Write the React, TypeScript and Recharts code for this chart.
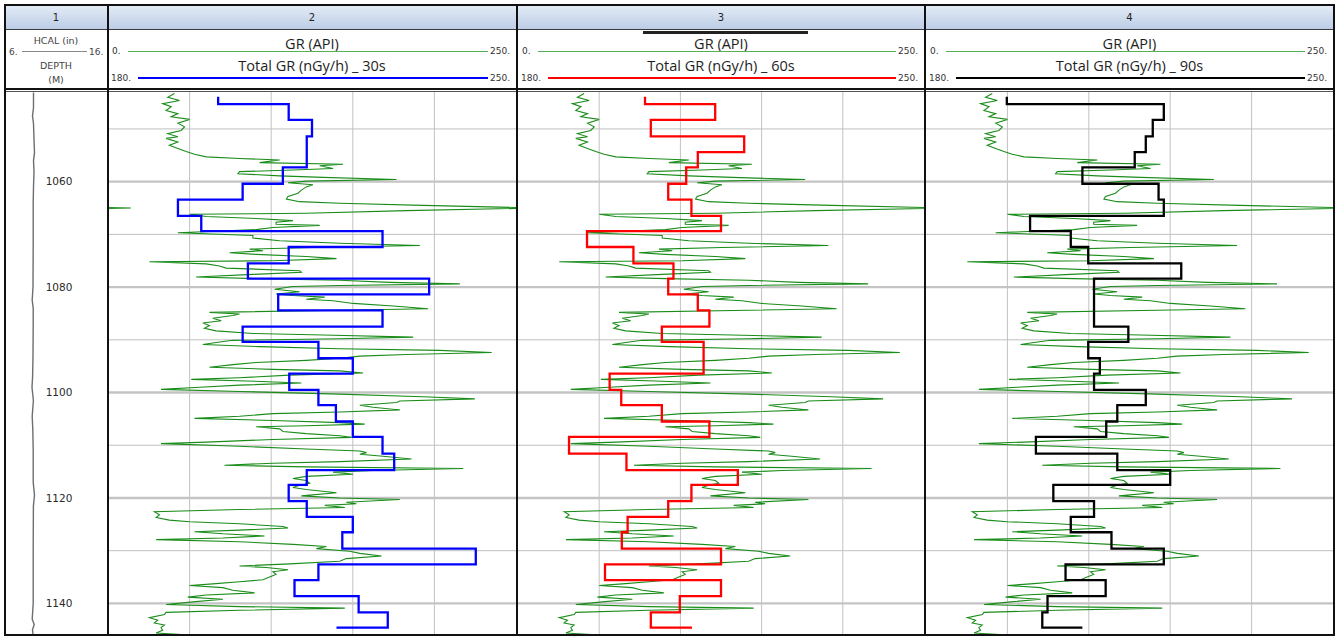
import React from 'react';
import { ScatterChart, Scatter, XAxis, YAxis, ReferenceLine } from 'recharts';

// depth window shown in the plot (m)
const depthTop = 1043.0;
const depthBottom = 1145.8;
const depthLines = [1050, 1060, 1070, 1080, 1090, 1100, 1110, 1120, 1130, 1140];
const depthLabels = [1060, 1080, 1100, 1120, 1140];
const grGrid = [50, 100, 150, 200];

// GR (API) curve, same in tracks 2-4
const grDepth = [
  1043.3, 1044.0, 1044.6, 1045.2, 1045.8, 1046.5, 1047.1, 1047.7, 1048.2, 1048.9,
  1049.6, 1050.3, 1050.9, 1051.5, 1051.8, 1052.5, 1053.1, 1053.7, 1054.3, 1054.8,
  1055.3, 1055.6, 1055.9, 1056.4, 1056.7, 1057.0, 1057.5, 1057.8, 1058.1, 1058.5,
  1058.9, 1059.2, 1059.6, 1059.9, 1060.2, 1060.6, 1061.0, 1061.6, 1062.2, 1062.8,
  1063.3, 1063.8, 1064.1, 1064.5, 1065.0, 1065.5, 1066.0, 1066.2, 1066.6, 1067.0,
  1067.4, 1067.7, 1068.1, 1068.3, 1068.7, 1069.1, 1069.7, 1070.2, 1070.7, 1071.2,
  1071.7, 1072.1, 1072.5, 1072.8, 1073.1, 1073.5, 1073.8, 1074.2, 1074.6, 1075.0,
  1075.2, 1075.6, 1076.0, 1076.4, 1076.9, 1077.2, 1077.6, 1078.1, 1078.4, 1078.7,
  1079.1, 1079.4, 1079.7, 1079.9, 1080.4, 1080.9, 1081.3, 1081.6, 1081.9, 1082.3,
  1082.6, 1083.1, 1083.6, 1084.1, 1084.4, 1084.8, 1085.1, 1085.4, 1085.9, 1086.4,
  1086.8, 1087.3, 1087.8, 1088.3, 1088.8, 1089.1, 1089.5, 1089.8, 1090.1, 1090.5,
  1090.9, 1091.3, 1091.7, 1092.0, 1092.4, 1092.8, 1093.1, 1093.5, 1093.9, 1094.3,
  1094.7, 1095.2, 1095.6, 1095.9, 1096.3, 1096.7, 1097.2, 1097.5, 1097.8, 1098.2,
  1098.6, 1099.0, 1099.4, 1099.8, 1100.3, 1100.8, 1101.2, 1101.6, 1101.9, 1102.4,
  1102.8, 1103.3, 1103.7, 1104.0, 1104.5, 1104.9, 1105.3, 1105.7, 1106.0, 1106.3,
  1106.5, 1106.9, 1107.4, 1107.8, 1108.2, 1108.5, 1108.9, 1109.4, 1109.7, 1110.2,
  1110.7, 1111.1, 1111.4, 1111.7, 1112.1, 1112.6, 1113.1, 1113.4, 1113.8, 1114.1,
  1114.4, 1114.8, 1115.1, 1115.5, 1115.9, 1116.3, 1116.7, 1117.2, 1117.6, 1118.0,
  1118.4, 1119.0, 1119.6, 1120.0, 1120.3, 1120.8, 1121.1, 1121.4, 1121.8, 1122.2,
  1122.6, 1123.2, 1123.7, 1124.2, 1124.5, 1124.9, 1125.4, 1125.7, 1126.1, 1126.4,
  1126.8, 1127.2, 1127.6, 1127.9, 1128.3, 1128.8, 1129.2, 1129.6, 1130.1, 1130.5,
  1131.0, 1131.5, 1132.0, 1132.5, 1132.9, 1133.2, 1133.6, 1134.0, 1134.5, 1135.0,
  1135.5, 1135.9, 1136.3, 1136.6, 1137.0, 1137.5, 1138.0, 1138.4, 1138.8, 1139.2,
  1139.7, 1140.2, 1140.6, 1140.9, 1141.3, 1141.7, 1142.1, 1142.7, 1143.2, 1143.7,
  1144.1, 1144.6, 1145.1, 1145.6, 1146.0,
];
const grApi = [
  40.7, 36.6, 43.8, 33.5, 38.7, 35.6, 42.8, 38.7, 50.0, 42.8,
  46.9, 44.8, 36.6, 42.8, 35.6, 42.8, 37.6, 42.8, 47.9, 53.0,
  60.2, 80.6, 105.2, 92.9, 144.0, 129.7, 137.9, 113.3, 80.6, 79.6,
  105.2, 131.8, 176.8, 121.5, 110.3, 125.6, 121.5, 118.5, 116.4, 110.3,
  109.3, 117.4, 142.0, 193.0, 264.0, 183.0, 121.5, 50.0, 60.2, 90.8,
  113.3, 103.0, 103.0, 129.7, 101.0, 90.8, 42.8, 88.8, 88.8, 105.2,
  142.0, 191.1, 125.6, 86.8, 95.0, 74.5, 90.8, 121.5, 140.0, 101.0,
  25.4, 60.2, 68.3, 72.4, 117.4, 118.5, 88.8, 54.0, 90.8, 142.0,
  172.7, 215.6, 142.0, 113.3, 102.1, 117.4, 103.0, 113.3, 132.8, 121.5,
  137.9, 150.2, 174.7, 196.2, 142.0, 62.2, 80.6, 76.5, 64.2, 69.4,
  58.1, 62.2, 59.1, 66.3, 88.8, 131.8, 187.0, 142.0, 76.5, 66.3,
  58.1, 92.9, 142.0, 203.3, 235.1, 183.0, 154.3, 142.0, 121.5, 90.8,
  76.5, 62.2, 101.0, 142.0, 156.3, 111.3, 80.6, 51.0, 84.7, 118.5,
  80.6, 56.1, 32.5, 80.6, 142.0, 193.0, 224.8, 178.8, 176.8, 154.3,
  162.5, 178.8, 142.0, 101.0, 80.6, 53.0, 101.0, 142.0, 157.3, 121.5,
  90.8, 105.2, 107.2, 121.5, 142.0, 149.2, 101.0, 60.2, 32.5, 80.6,
  121.5, 154.3, 158.4, 154.3, 168.6, 186.0, 142.0, 101.0, 71.4, 121.5,
  217.7, 162.5, 137.9, 150.2, 121.5, 113.3, 121.5, 123.6, 117.4, 113.3,
  121.5, 140.0, 118.5, 142.0, 178.8, 146.0, 152.2, 132.8, 145.1, 80.6,
  28.4, 31.5, 29.5, 37.6, 50.0, 80.6, 107.2, 110.3, 80.6, 53.0,
  70.4, 95.9, 70.4, 29.5, 80.6, 113.3, 133.8, 127.7, 148.1, 154.3,
  167.6, 146.0, 142.0, 111.3, 80.6, 97.0, 110.3, 101.0, 103.0, 99.0,
  95.0, 80.6, 64.2, 50.0, 70.4, 76.5, 89.8, 60.2, 48.9, 70.4,
  52.0, 35.6, 80.6, 145.1, 80.6, 35.6, 34.6, 25.4, 30.5, 28.4,
  34.6, 32.5, 33.5, 29.5, 50.0,
];

// HCAL (in), track 1
const hcalDepth = [
  1043.1, 1046.0, 1047.5, 1049.0, 1052.0, 1054.5, 1056.0, 1058.0, 1061.0, 1064.0,
  1072.0, 1080.0, 1082.5, 1084.0, 1087.0, 1093.0, 1097.0, 1099.0, 1101.5, 1104.5,
  1107.0, 1111.0, 1117.0, 1119.5, 1121.5, 1130.0, 1140.0, 1143.0, 1144.0, 1145.0,
  1145.8,
];
const hcalIn = [
  8.65, 8.65, 8.55, 8.65, 8.7, 8.75, 8.65, 8.7, 8.65, 8.62,
  8.62, 8.6, 8.52, 8.62, 8.62, 8.6, 8.56, 8.5, 8.64, 8.52,
  8.58, 8.62, 8.62, 8.75, 8.64, 8.62, 8.62, 8.52, 8.72, 8.55,
  8.6,
];

// Total GR step tops (m) and readings (nGy/h)
const stepDepth = [
  1043.9, 1045.3, 1048.3, 1051.4, 1054.4, 1057.3, 1060.4, 1063.4, 1066.5, 1069.4,
  1072.4, 1075.5, 1078.4, 1081.4, 1084.4, 1087.5, 1090.4, 1093.5, 1096.4, 1099.5,
  1102.4, 1105.5, 1108.4, 1111.6, 1114.7, 1117.5, 1120.6, 1123.6, 1126.5, 1129.6,
  1132.6, 1135.6, 1138.6, 1141.7, 1144.6,
];
const totalGr30 = [
  198.9, 211.0, 215.0, 214.1, 214.1, 210.0, 203.1, 192.0, 196.0, 227.1,
  211.0, 204.0, 235.1, 209.2, 227.1, 203.1, 216.1, 222.0, 211.1, 216.1,
  219.1, 222.0, 227.1, 229.1, 214.1, 211.0, 214.1, 222.0, 220.2, 243.1,
  216.1, 212.0, 223.0, 228.0, 219.2,
];
const totalGr60 = [
  201.9, 214.0, 202.9, 219.0, 211.0, 209.0, 205.9, 209.9, 215.0, 191.9,
  199.9, 206.8, 205.9, 211.0, 213.0, 204.8, 212.0, 212.0, 195.8, 197.8,
  204.8, 213.0, 188.8, 198.7, 217.9, 209.9, 205.9, 198.9, 197.9, 215.0,
  195.0, 215.0, 207.9, 202.9, 210.0,
];
const totalGr90 = [
  193.9, 220.9, 219.0, 217.8, 215.9, 206.9, 220.0, 220.9, 197.9, 204.9,
  207.9, 223.9, 208.9, 208.9, 208.9, 214.8, 207.9, 209.9, 208.9, 217.8,
  212.9, 211.0, 198.9, 212.9, 222.0, 201.9, 208.9, 204.9, 211.9, 220.9,
  204.0, 210.9, 200.9, 200.0, 206.9,
];

const PLOT_TOP = 92;
const PLOT_H = 542;
const GREEN = '#1a8c1a';
const SMALL = { fontFamily: '"DejaVu Sans", sans-serif', fontSize: 9, color: '#333' };
const TITLE = { fontFamily: '"Open Sans", sans-serif', fontSize: 14.5, color: '#1e1e1e' };

const noDot = () => <g />;

function zip(depths: number[], values: number[]) {
  return depths.map((d, i) => ({ x: values[i], y: d }));
}

// squared-off curve: each reading holds down to the next step top
function stepPoints(depths: number[], values: number[]) {
  const pts: { x: number; y: number }[] = [];
  values.forEach((v, i) => {
    pts.push({ x: v, y: depths[i] });
    if (i + 1 < values.length) pts.push({ x: v, y: depths[i + 1] });
  });
  return pts;
}

// part of the curve above scale max, wrapped back from the left edge
function wrapPoints(depths: number[], values: number[], max: number) {
  const pts: { x: number; y: number }[] = [];
  for (let i = 0; i < values.length; i++) {
    if (values[i] > max) pts.push({ x: values[i] - max, y: depths[i] });
    const next = values[i + 1];
    if (next !== undefined && (values[i] > max) !== (next > max)) {
      const t = (max - values[i]) / (next - values[i]);
      pts.push({ x: 0, y: depths[i] + (depths[i + 1] - depths[i]) * t });
    }
  }
  return pts;
}

const grData = zip(grDepth, grApi);
const hcalData = zip(hcalDepth, hcalIn);

const tracks = [
  { num: '2', left: 108, width: 408, color: '#0000ff', values: totalGr30, title: 'Total GR (nGy/h) _ 30s', wrap: true },
  { num: '3', left: 518, width: 406, color: '#ff0000', values: totalGr60, title: 'Total GR (nGy/h) _ 60s', wrap: false },
  { num: '4', left: 926, width: 407, color: '#000000', values: totalGr90, title: 'Total GR (nGy/h) _ 90s', wrap: false },
];

const abs = (style: React.CSSProperties): React.CSSProperties => ({ position: 'absolute', ...style });
const centered = (x: number, y: number): React.CSSProperties =>
  abs({ left: x, top: y, transform: 'translate(-50%, -50%)', whiteSpace: 'nowrap', lineHeight: 1 });

function GrTrack({ left, width, color, values, wrap }: any) {
  const steps = stepPoints(stepDepth, values);
  const wrapped = wrapPoints(grDepth, grApi, 250);
  return (
    <div style={abs({ left, top: PLOT_TOP, width, height: PLOT_H })}>
      <ScatterChart width={width} height={PLOT_H} margin={{ top: 0, right: 0, bottom: 0, left: 0 }}>
        <XAxis xAxisId="gr" type="number" dataKey="x" domain={[0, 250]} allowDataOverflow hide />
        <XAxis xAxisId="tgr" type="number" dataKey="x" domain={[180, 250]} allowDataOverflow hide />
        <YAxis type="number" dataKey="y" domain={[depthTop, depthBottom]} reversed allowDataOverflow hide />
        {grGrid.map((v) => (
          <ReferenceLine key={'x' + v} xAxisId="gr" x={v} stroke="#c2c2c2" strokeWidth={1} />
        ))}
        {depthLines.map((d) => (
          <ReferenceLine
            key={'y' + d}
            xAxisId="gr"
            y={d}
            stroke={d % 20 === 0 ? '#c4c4c4' : '#c0c0c0'}
            strokeWidth={d % 20 === 0 ? 2.4 : 1}
          />
        ))}
        <Scatter
          xAxisId="gr"
          data={grData}
          fill={GREEN}
          line={{ stroke: GREEN, strokeWidth: 1.1 }}
          shape={noDot}
          isAnimationActive={false}
        />
        {wrap && (
          <Scatter
            xAxisId="gr"
            data={wrapped}
            fill={GREEN}
            line={{ stroke: GREEN, strokeWidth: 1.1 }}
            shape={noDot}
            isAnimationActive={false}
          />
        )}
        <Scatter
          xAxisId="tgr"
          data={steps}
          fill={color}
          line={{ stroke: color, strokeWidth: 2.3 }}
          shape={noDot}
          isAnimationActive={false}
        />
      </ScatterChart>
    </div>
  );
}

function DepthTrack() {
  return (
    <div style={abs({ left: 7, top: PLOT_TOP, width: 100, height: PLOT_H })}>
      <ScatterChart width={100} height={PLOT_H} margin={{ top: 0, right: 0, bottom: 0, left: 0 }}>
        <XAxis xAxisId="hcal" type="number" dataKey="x" domain={[6, 16]} allowDataOverflow hide />
        <YAxis type="number" dataKey="y" domain={[depthTop, depthBottom]} reversed allowDataOverflow hide />
        {depthLabels.map((d) => (
          <ReferenceLine
            key={d}
            xAxisId="hcal"
            y={d}
            stroke="none"
            label={{ value: String(d), position: 'center', dx: 2, fill: '#2a2a2a', fontSize: 10.5, fontFamily: 'DejaVu Sans' }}
          />
        ))}
        <Scatter
          xAxisId="hcal"
          data={hcalData}
          fill="#6e6e6e"
          line={{ stroke: '#6e6e6e', strokeWidth: 1.4 }}
          shape={noDot}
          isAnimationActive={false}
        />
      </ScatterChart>
    </div>
  );
}

function TrackHeader({ left, width, color, title }: any) {
  const cx = left + width / 2;
  return (
    <>
      <span style={centered(cx, 43.5)}><span style={TITLE}>GR (API)</span></span>
      <span style={{ ...SMALL, ...abs({ left: left + 4, top: 46, lineHeight: '10px' }) }}>0.</span>
      <div style={abs({ left: left + 20, top: 50.5, width: width - 48, height: 1.5, background: '#55b055' })} />
      <span style={{ ...SMALL, ...abs({ left: left + width - 26, top: 46, lineHeight: '10px' }) }}>250.</span>

      <span style={centered(cx, 65.5)}><span style={TITLE}>{title}</span></span>
      <span style={{ ...SMALL, ...abs({ left: left + 3, top: 73, lineHeight: '10px' }) }}>180.</span>
      <div style={abs({ left: left + 30, top: 77, width: width - 58, height: 2, background: color })} />
      <span style={{ ...SMALL, ...abs({ left: left + width - 26, top: 73, lineHeight: '10px' }) }}>250.</span>
    </>
  );
}

export default function App() {
  const dividers = [4, 106.5, 516, 924, 1333];
  const cells = [
    { num: '1', cx: 56 },
    ...tracks.map((t) => ({ num: t.num, cx: t.left + t.width / 2 })),
  ];
  return (
    <div style={abs({ left: 0, top: 0, width: 1339, height: 636, background: '#fff', overflow: 'hidden' })}>
      {/* track number row */}
      <div style={abs({ left: 5, top: 5, width: 1329, height: 24, background: 'linear-gradient(#e4ecf7, #bccde6)' })} />
      {cells.map((c) => (
        <span key={c.num} style={{ ...SMALL, ...centered(c.cx, 17.5), fontSize: 10, color: '#222' }}>{c.num}</span>
      ))}

      {/* track 1 header */}
      <span style={{ ...SMALL, ...centered(56, 41), fontSize: 9.5, color: '#444' }}>HCAL (in)</span>
      <span style={{ ...SMALL, ...abs({ left: 9, top: 47, lineHeight: '10px' }), color: '#444' }}>6.</span>
      <div style={abs({ left: 22, top: 51, width: 65, height: 1.2, background: '#8a8a8a' })} />
      <span style={{ ...SMALL, ...abs({ left: 89, top: 47, lineHeight: '10px' }), color: '#444' }}>16.</span>
      <span style={{ ...SMALL, ...centered(56, 66), fontSize: 9.5, color: '#444' }}>DEPTH</span>
      <span style={{ ...SMALL, ...centered(56, 80), fontSize: 9.5, color: '#444' }}>(M)</span>

      {tracks.map((t) => (
        <TrackHeader key={t.num} {...t} />
      ))}
      <div style={abs({ left: 643, top: 31, width: 165, height: 2.5, background: '#222' })} />

      {/* plots */}
      <DepthTrack />
      {tracks.map((t) => (
        <GrTrack key={t.num} {...t} />
      ))}

      {/* frame */}
      <div style={abs({ left: 4, top: 4, width: 1331, height: 2, background: '#111' })} />
      <div style={abs({ left: 4, top: 29, width: 1331, height: 1, background: '#3a3a3a' })} />
      <div style={abs({ left: 4, top: 88, width: 1331, height: 2, background: '#111' })} />
      <div style={abs({ left: 4, top: 91, width: 1331, height: 1, background: '#555' })} />
      <div style={abs({ left: 4, top: 634, width: 1331, height: 2, background: '#111' })} />
      {dividers.map((x) => (
        <div key={x} style={abs({ left: x, top: 4, width: 2, height: 632, background: '#111' })} />
      ))}
    </div>
  );
}
